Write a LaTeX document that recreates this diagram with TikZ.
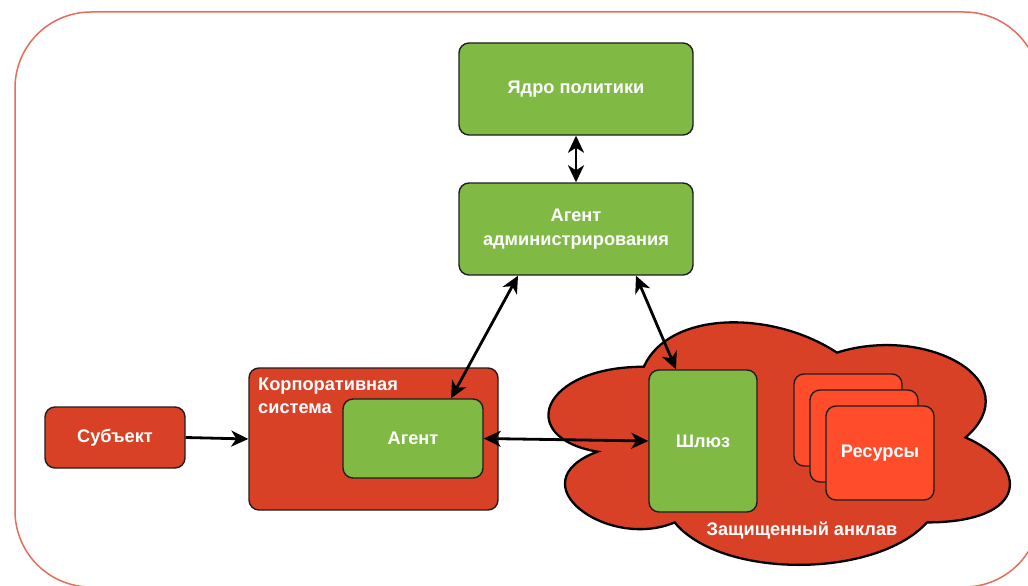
\documentclass[tikz,border=0pt]{standalone}
\usepackage{fontspec}
\setmainfont{Liberation Sans}
\usetikzlibrary{arrows.meta,calc}
\definecolor{gfill}{RGB}{128,186,69}
\definecolor{rfill}{RGB}{217,65,39}
\definecolor{resfill}{RGB}{255,76,43}
\definecolor{outer}{RGB}{229,110,90}
\definecolor{edge}{RGB}{30,30,30}
\tikzset{
  box/.style={draw=edge, line width=1.4pt, rounded corners=10pt, inner sep=2pt,
    font=\bfseries\fontsize{18.2}{24}\selectfont, text=white, align=center},
  gbox/.style={box, fill=gfill},
  rbox/.style={box, fill=rfill},
  resbox/.style={box, fill=resfill},
  headtip/.tip={Stealth[length=17pt,width=16pt,inset=5pt]},
  arr/.style={draw=black, line width=2.8pt, -headtip},
  darr/.style={draw=black, line width=2.8pt, headtip-headtip},
  lbl/.style={font=\bfseries\fontsize{18.2}{23}\selectfont, text=white},
}
\begin{document}
\begin{tikzpicture}[x=1pt,y=-1pt]
\useasboundingbox (0,0) rectangle (1028,586);
\fill[white] (0,0) rectangle (1028,586);
% outer frame
\draw[outer, line width=1.5pt, rounded corners=76pt] (15,12) rectangle (1040,587);
% cloud
\draw[fill=rfill, draw=black, line width=2.3pt]
  (643.75,366.75) .. controls (540.75,366.75) and (515,437.5) .. (597.4,451.65)
  .. controls (515,482.8) and (607.7,550.7) .. (674.65,522.4)
  .. controls (721,579) and (875.5,579) .. (927,522.4)
  .. controls (1030,522.4) and (1030,465.8) .. (965.6,437.5)
  .. controls (1030,380.9) and (927,324.3) .. (836.9,352.6)
  .. controls (772.5,310.15) and (669.5,310.15) .. (643.75,366.75) -- cycle;
\node[lbl] (encl) at (802,531) {Защищенный анклав};
% nodes
\node[gbox, minimum width=234pt, minimum height=92pt] (yadro) at (576,89) {Ядро политики};
\node[gbox, minimum width=234pt, minimum height=92pt] (admin) at (576,229) {Агент\\администрирования};
\node[rbox, minimum width=140pt, minimum height=61pt] (subj) at (115,437.5) {Субъект};
\node[rbox, minimum width=249pt, minimum height=142pt] (corp) at (373.5,439) {};
\node[lbl, anchor=north west, align=left, inner sep=0pt] (corplbl) at (258,377.5) {Корпоративная\\система};
\node[gbox, minimum width=140pt, minimum height=79pt] (agent) at (413,438.5) {Агент};
\node[gbox, minimum width=108pt, minimum height=142pt] (gate) at (703,441) {Шлюз};
\node[resbox, minimum width=108pt, minimum height=92pt] (res1) at (848,420) {};
\node[resbox, minimum width=108pt, minimum height=92pt] (res2) at (864,436) {};
\node[resbox, minimum width=108pt, minimum height=94pt] (res3) at (880,453) {Ресурсы};
% connectors
\draw[darr] (yadro.south) -- (admin.north);
\draw[arr] (subj.east) -- (corp.west);
\draw[darr] (agent.east) -- (gate.west);
\draw[darr] ($(admin.south)+(-58,0)$) -- ($(agent.north)+(38,0)$);
\draw[darr] ($(admin.south)+(60,0)$) -- ($(gate.north)+(-27,0)$);
\end{tikzpicture}
\end{document}
